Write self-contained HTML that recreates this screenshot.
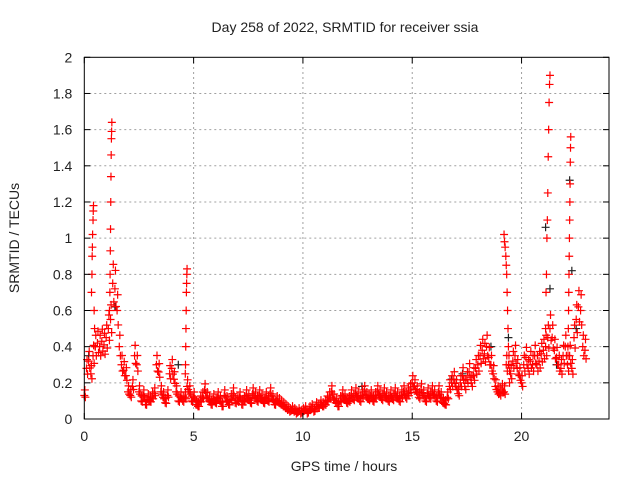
<!DOCTYPE html>
<html><head><meta charset="utf-8"><style>
body{margin:0;background:#fff}
svg text{font-family:"Liberation Sans",sans-serif;font-size:14px;fill:#222}
</style></head><body>
<svg id="c" width="640" height="480">
<rect x="0" y="0" width="640" height="480" fill="#fff"/>
<text x="345" y="32" text-anchor="middle">Day 258 of 2022, SRMTID for receiver ssia</text>
<text transform="translate(19,238) rotate(-90)" text-anchor="middle">SRMTID / TECUs</text>
<text x="344" y="471" text-anchor="middle">GPS time / hours</text>
<g id="grid"></g>
<g id="marks"></g>
<rect x="84.3" y="57.3" width="524.7" height="361.7" fill="none" stroke="#000" stroke-width="1"/>
<g id="ticks"></g>
</svg>
<script>
const xTicks=[0,5,10,15,20];
const yTicks=[0,0.2,0.4,0.6,0.8,1,1.2,1.4,1.6,1.8,2];
const yTickLabels=["0","0.2","0.4","0.6","0.8","1","1.2","1.4","1.6","1.8","2"];
const baseStep=0.1;
const baseValues=[
0.13,0.28,0.32,0.25,0.35,0.40,0.42,0.40,0.43,0.41,
0.45,0.50,0.55,0.75,0.72,0.60,0.40,0.30,0.27,0.24,
0.15,0.13,0.18,0.35,0.30,0.15,0.10,0.13,0.08,0.11,
0.10,0.12,0.14,0.30,0.26,0.15,0.12,0.09,0.13,0.25,
0.28,0.22,0.15,0.10,0.12,0.10,0.12,0.18,0.15,0.10,
0.12,0.08,0.07,0.10,0.12,0.16,0.12,0.10,0.08,0.11,
0.09,0.12,0.10,0.07,0.13,0.10,0.08,0.11,0.14,0.09,
0.10,0.12,0.08,0.10,0.13,0.11,0.09,0.14,0.12,0.10,
0.13,0.11,0.09,0.12,0.10,0.14,0.11,0.08,0.10,0.09,
0.08,0.07,0.06,0.05,0.04,0.05,0.04,0.03,0.04,0.03,
0.04,0.05,0.03,0.05,0.06,0.04,0.07,0.06,0.08,0.07,
0.08,0.10,0.12,0.15,0.11,0.09,0.07,0.10,0.13,0.11,
0.09,0.10,0.13,0.11,0.14,0.12,0.10,0.13,0.15,0.12,
0.11,0.13,0.10,0.12,0.15,0.13,0.11,0.14,0.12,0.10,
0.13,0.11,0.14,0.12,0.10,0.13,0.15,0.12,0.14,0.16,
0.20,0.18,0.15,0.12,0.16,0.13,0.10,0.14,0.12,0.15,
0.13,0.10,0.15,0.12,0.09,0.08,0.12,0.18,0.20,0.22,
0.18,0.14,0.20,0.24,0.18,0.22,0.26,0.20,0.24,0.28,
0.30,0.35,0.38,0.36,0.40,0.34,0.30,0.25,0.18,0.15,
0.14,0.16,0.15,0.30,0.30,0.25,0.32,0.35,0.28,0.24,
0.20,0.30,0.34,0.28,0.32,0.30,0.35,0.30,0.32,0.36,
0.38,0.40,0.45,0.50,0.45,0.38,0.34,0.30,0.28,0.35,
0.40,0.30,0.35,0.28,0.45,0.55,0.62,0.60,0.40,0.38];
const spikeTimes=[0.33,0.35,0.36,0.37,0.38,0.4,0.41,0.42,0.45,0.47,0.5,
1.15,1.17,1.18,1.19,1.2,1.21,1.22,1.23,1.24,1.25,1.26,
4.62,4.63,4.64,4.65,4.66,4.67,4.68,4.69,4.7,
19.2,19.22,19.25,19.28,19.3,19.32,19.34,19.36,19.38,19.4,19.42,19.45,
21.1,21.12,21.14,21.16,21.18,21.2,21.22,21.24,21.26,21.28,21.3,
22.12,22.14,22.15,22.16,22.17,22.18,22.19,22.2,22.21,22.22,22.23,22.24,22.25];
const spikeValues=[0.7,0.8,0.9,0.95,1.02,1.1,1.15,1.18,0.6,0.5,0.4,
0.6,0.7,0.8,0.93,1.05,1.2,1.34,1.46,1.55,1.59,1.64,
0.25,0.3,0.4,0.5,0.6,0.7,0.75,0.8,0.83,
1.02,0.98,0.95,0.9,0.85,0.8,0.7,0.6,0.5,0.4,0.3,0.2,
0.5,0.7,0.8,1.0,1.1,1.25,1.45,1.6,1.75,1.85,1.9,
0.4,0.5,0.6,0.7,0.8,0.9,1.0,1.1,1.2,1.3,1.42,1.5,1.56];
const blackTimes=[0.2,1.4,4.3,12.7,18.6,19.4,21.1,21.3,22.2,22.3,16.8,17.3,21.6,22.5];
const blackValues=[0.35,0.62,0.3,0.18,0.4,0.45,1.06,0.72,1.32,0.82,0.22,0.25,0.3,0.5];

const X0=84.3,X1=609,Y0=419,Y1=57.3,XMAX=24,YMAX=2;
const sx=t=>X0+t/XMAX*(X1-X0);
const sy=v=>Y0-v/YMAX*(Y0-Y1);
const NS="http://www.w3.org/2000/svg";
function mk(tag,attrs,parent){const e=document.createElementNS(NS,tag);for(const k in attrs)e.setAttribute(k,attrs[k]);parent.appendChild(e);return e;}
const grid=document.getElementById('grid'),ticks=document.getElementById('ticks'),marks=document.getElementById('marks');
xTicks.forEach(t=>{
 if(t>0){const g=mk('line',{x1:sx(t),x2:sx(t),y1:Y0,y2:Y1,stroke:'#a0a0a0','stroke-dasharray':'2,3'},grid);
 
 }
 mk('line',{x1:sx(t),x2:sx(t),y1:Y0,y2:Y0-6,stroke:'#000'},ticks);
 mk('line',{x1:sx(t),x2:sx(t),y1:Y1,y2:Y1+6,stroke:'#000'},ticks);
 const tx=mk('text',{x:sx(t),y:Y0+22,'text-anchor':'middle'},ticks);tx.textContent=String(t);
 
 
});
yTicks.forEach((v,i)=>{
 if(v>0&&v<YMAX){const g=mk('line',{x1:X0,x2:X1,y1:sy(v),y2:sy(v),stroke:'#a0a0a0','stroke-dasharray':'2,3'},grid);
 
 }
 mk('line',{x1:X0,x2:X0+6,y1:sy(v),y2:sy(v),stroke:'#000'},ticks);
 mk('line',{x1:X1,x2:X1-6,y1:sy(v),y2:sy(v),stroke:'#000'},ticks);
 const tx=mk('text',{x:X0-12,y:sy(v)+5,'text-anchor':'end'},ticks);tx.textContent=yTickLabels[i];
 
 
});
function cross(t,v,col,name){
 const x=sx(t),y=sy(v);
 const p=mk('path',{d:`M${x-4},${y}H${x+4}M${x},${y-4}V${y+4}`,stroke:col,'stroke-width':1.2,fill:'none'},marks);
 
 
}
blackTimes.forEach((t,i)=>cross(t,blackValues[i],'#222','black-point'));
baseValues.forEach((v,i)=>{const t=i*baseStep;
 cross(t,v,'#ff0000','red-point');
 cross(t+0.05,v*0.85+0.01,'#ff0000','red-point');
 cross(t+0.025,v*1.12+0.015,'#ff0000','red-point');});
spikeTimes.forEach((t,i)=>cross(t,spikeValues[i],'#ff0000','red-point'));
</script>
</body></html>
